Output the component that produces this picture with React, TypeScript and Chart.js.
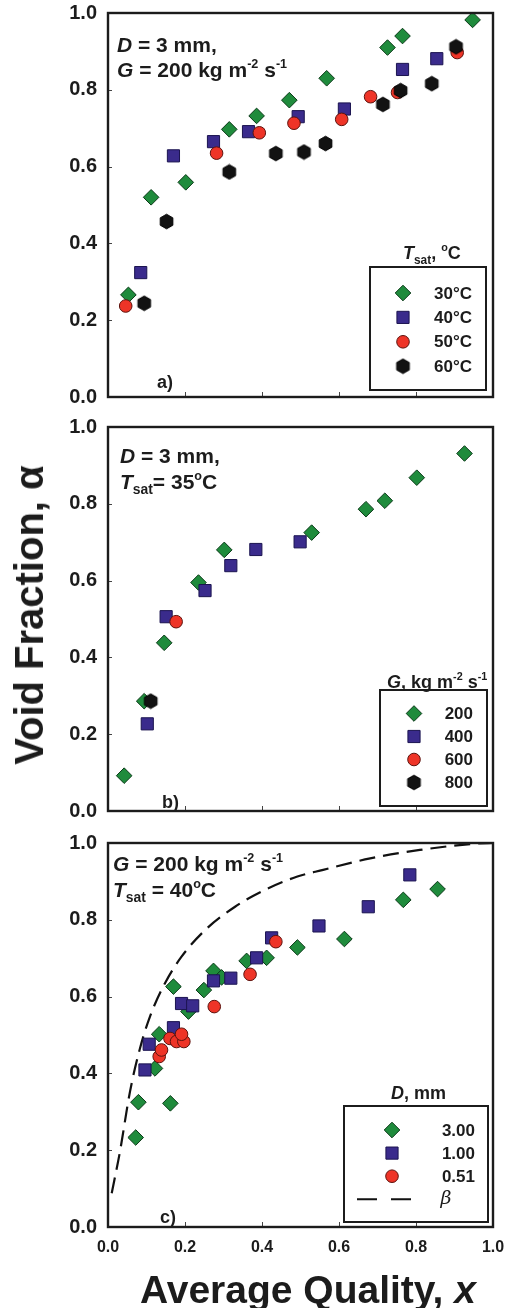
import React, { useEffect, useRef } from 'react';
import { Chart, registerables } from 'chart.js';

Chart.register(...registerables);

type Pt = [number, number];

const FONT = '"Liberation Sans", Arial, Helvetica, sans-serif';
const INK = '#1c1c1c';

// ---- axes ----
const X_TICKS = [0, 0.2, 0.4, 0.6, 0.8, 1.0];
const X_TICK_LABELS = ['0.0', '0.2', '0.4', '0.6', '0.8', '1.0'];
const Y_TICKS = [0, 0.2, 0.4, 0.6, 0.8, 1.0];
const Y_TICK_LABELS = ['0.0', '0.2', '0.4', '0.6', '0.8', '1.0'];

// ---- panel a) D = 3 mm, G = 200, by Tsat ----
const A_LABELS = ['30°C', '40°C', '50°C', '60°C'];
const A_30C: Pt[] = [[0.053, 0.266], [0.112, 0.52], [0.202, 0.559], [0.315, 0.697], [0.386, 0.732], [0.471, 0.773], [0.568, 0.83], [0.726, 0.91], [0.765, 0.94], [0.947, 0.982]];
const A_40C: Pt[] = [[0.085, 0.324], [0.17, 0.628], [0.274, 0.665], [0.365, 0.691], [0.494, 0.73], [0.614, 0.75], [0.765, 0.853], [0.854, 0.881]];
const A_50C: Pt[] = [[0.046, 0.237], [0.282, 0.635], [0.393, 0.688], [0.483, 0.713], [0.607, 0.723], [0.682, 0.782], [0.752, 0.793], [0.907, 0.897]];
const A_60C: Pt[] = [[0.094, 0.244], [0.152, 0.457], [0.315, 0.586], [0.436, 0.634], [0.509, 0.638], [0.565, 0.66], [0.714, 0.762], [0.76, 0.798], [0.841, 0.816], [0.904, 0.912]];

// ---- panel b) D = 3 mm, Tsat = 35°C, by G ----
const B_LABELS = ['200', '400', '600', '800'];
const B_200: Pt[] = [[0.042, 0.092], [0.094, 0.286], [0.146, 0.438], [0.235, 0.595], [0.302, 0.68], [0.529, 0.725], [0.67, 0.786], [0.719, 0.808], [0.802, 0.868], [0.926, 0.931]];
const B_400: Pt[] = [[0.102, 0.227], [0.151, 0.506], [0.252, 0.574], [0.319, 0.639], [0.384, 0.681], [0.499, 0.701]];
const B_600: Pt[] = [[0.177, 0.493]];
const B_800: Pt[] = [[0.111, 0.286]];

// ---- panel c) G = 200, Tsat = 40°C, by D ----
const C_LABELS = ['3.00', '1.00', '0.51', 'β'];
const C_300: Pt[] = [[0.072, 0.233], [0.079, 0.325], [0.162, 0.322], [0.122, 0.413], [0.133, 0.502], [0.17, 0.626], [0.209, 0.561], [0.249, 0.617], [0.274, 0.667], [0.295, 0.65], [0.36, 0.693], [0.412, 0.701], [0.492, 0.728], [0.614, 0.75], [0.767, 0.852], [0.856, 0.88]];
const C_100: Pt[] = [[0.096, 0.409], [0.107, 0.476], [0.17, 0.519], [0.191, 0.582], [0.22, 0.576], [0.274, 0.641], [0.319, 0.648], [0.386, 0.701], [0.425, 0.753], [0.548, 0.784], [0.676, 0.834], [0.784, 0.917]];
const C_051: Pt[] = [[0.133, 0.444], [0.139, 0.461], [0.161, 0.491], [0.178, 0.483], [0.197, 0.483], [0.191, 0.502], [0.276, 0.574], [0.369, 0.658], [0.436, 0.743]];
const C_BETA: Pt[] = [[0.0096, 0.088], [0.031, 0.196], [0.057, 0.352], [0.083, 0.465], [0.109, 0.548], [0.148, 0.635], [0.191, 0.704], [0.252, 0.773], [0.33, 0.834], [0.408, 0.878], [0.49, 0.912], [0.559, 0.93], [0.681, 0.96], [0.81, 0.982], [0.966, 0.999], [1.0, 1.0]];

// ---- legend layouts (pixels relative to plot area) ----
const LEG_A = { width: 116, height: 123, insetRight: 7, insetBottom: 7, rowTop: 26, rowGap: 24.4, markerX: 33, labelRight: 102 };
const LEG_B = { width: 107, height: 116, insetRight: 6, insetBottom: 5, rowTop: 23.5, rowGap: 23, markerX: 34, labelRight: 93 };
const LEG_C = { width: 144, height: 116, insetRight: 5, insetBottom: 5, rowTop: 24, rowGap: 23.1, markerX: 48, labelRight: 131, dashFrom: 13, dashTo: 71, betaX: 102 };

function makeHexagon(): HTMLCanvasElement {
  const c = document.createElement('canvas');
  c.width = 17;
  c.height = 17;
  const g = c.getContext('2d')!;
  const R = 7.3;
  g.beginPath();
  for (let k = 0; k < 6; k++) {
    const a = -Math.PI / 2 + (k * Math.PI) / 3;
    const px = 8.5 + R * Math.cos(a);
    const py = 8.5 + R * Math.sin(a);
    if (k === 0) g.moveTo(px, py);
    else g.lineTo(px, py);
  }
  g.closePath();
  g.fillStyle = '#121212';
  g.fill();
  g.strokeStyle = '#000';
  g.lineWidth = 1;
  g.stroke();
  return c;
}

function markerStyles(hex: HTMLCanvasElement) {
  return {
    diamond: { pointStyle: 'rectRot', pointRadius: 7.8, backgroundColor: '#1f8b3c', borderColor: '#0b3a18', borderWidth: 1 },
    square: { pointStyle: 'rect', pointRadius: 8.6, backgroundColor: '#3a2b8c', borderColor: '#1b1450', borderWidth: 1 },
    circle: { pointStyle: 'circle', pointRadius: 6.3, backgroundColor: '#ee3427', borderColor: '#5c130e', borderWidth: 1 },
    hexagon: { pointStyle: hex, pointRadius: 7, backgroundColor: '#121212', borderColor: '#000', borderWidth: 1 },
  };
}

const toXY = (pts: Pt[]) => pts.map(([x, y]) => ({ x, y }));

function drawMarker(ctx: CanvasRenderingContext2D, ds: any, x: number, y: number) {
  const r = ds.pointRadius;
  const st = ds.pointStyle;
  ctx.save();
  ctx.fillStyle = ds.backgroundColor;
  ctx.strokeStyle = ds.borderColor;
  ctx.lineWidth = ds.borderWidth || 1;
  if (typeof st !== 'string') {
    ctx.drawImage(st, x - st.width / 2, y - st.height / 2);
    ctx.restore();
    return;
  }
  ctx.beginPath();
  if (st === 'rectRot') {
    ctx.moveTo(x - r, y);
    ctx.lineTo(x, y - r);
    ctx.lineTo(x + r, y);
    ctx.lineTo(x, y + r);
    ctx.closePath();
  } else if (st === 'rect') {
    const s = r * Math.SQRT1_2;
    ctx.rect(x - s, y - s, 2 * s, 2 * s);
  } else {
    ctx.arc(x, y, r, 0, Math.PI * 2);
  }
  ctx.fill();
  ctx.stroke();
  ctx.restore();
}

const panelDecor = {
  id: 'panelDecor',
  afterDatasetsDraw(chart: any, _args: any, opts: any) {
    const { ctx, chartArea: ca } = chart;
    const xs = chart.scales.x;
    const ys = chart.scales.y;
    ctx.save();
    // inward tick marks
    ctx.strokeStyle = '#444';
    ctx.lineWidth = 1;
    ctx.beginPath();
    X_TICKS.slice(1, -1).forEach((v) => {
      const px = Math.round(xs.getPixelForValue(v)) + 0.5;
      ctx.moveTo(px, ca.bottom);
      ctx.lineTo(px, ca.bottom - 5);
    });
    Y_TICKS.slice(1, -1).forEach((v) => {
      const py = Math.round(ys.getPixelForValue(v)) + 0.5;
      ctx.moveTo(ca.left, py);
      ctx.lineTo(ca.left + 4, py);
    });
    ctx.stroke();
    // frame
    ctx.strokeStyle = INK;
    ctx.lineWidth = 2.4;
    ctx.strokeRect(ca.left, ca.top, ca.right - ca.left, ca.bottom - ca.top);

    // legend
    const L = opts && opts.legend;
    if (L) {
      const bx = ca.right - L.insetRight - L.width;
      const by = ca.bottom - L.insetBottom - L.height;
      ctx.fillStyle = '#fff';
      ctx.fillRect(bx, by, L.width, L.height);
      ctx.strokeStyle = INK;
      ctx.lineWidth = 2;
      ctx.strokeRect(bx, by, L.width, L.height);
      (opts.items as number[]).forEach((di, row) => {
        const ds = chart.data.datasets[di];
        const y = by + L.rowTop + row * L.rowGap;
        if (ds.showLine) {
          ctx.save();
          ctx.strokeStyle = ds.borderColor;
          ctx.lineWidth = 2;
          ctx.setLineDash([20, 14]);
          ctx.beginPath();
          ctx.moveTo(bx + L.dashFrom, y);
          ctx.lineTo(bx + L.dashTo, y);
          ctx.stroke();
          ctx.restore();
          ctx.fillStyle = INK;
          ctx.font = 'italic 19px "DejaVu Serif", "Liberation Serif", serif';
          ctx.textAlign = 'center';
          ctx.textBaseline = 'middle';
          ctx.fillText(ds.label, bx + L.betaX, y);
        } else {
          drawMarker(ctx, ds, bx + L.markerX, y);
          ctx.fillStyle = INK;
          ctx.font = `bold 17px ${FONT}`;
          ctx.textAlign = 'right';
          ctx.textBaseline = 'middle';
          ctx.fillText(ds.label, bx + L.labelRight, y + 1);
        }
      });
    }
    ctx.restore();
  },
};

function buildChart(
  canvas: HTMLCanvasElement,
  datasets: any[],
  cfg: { padTop: number; xAxisHeight: number; showX: boolean; legend: any; items: number[] }
) {
  return new Chart(canvas, {
    type: 'scatter',
    data: { datasets },
    options: {
      animation: false,
      responsive: false,
      maintainAspectRatio: false,
      events: [],
      layout: { padding: { top: cfg.padTop, right: 16, left: 0, bottom: 0 } },
      plugins: {
        legend: { display: false },
        tooltip: { enabled: false },
        // @ts-ignore
        panelDecor: { legend: cfg.legend, items: cfg.items },
      },
      scales: {
        x: {
          type: 'linear',
          min: 0,
          max: 1,
          grid: { display: false, drawTicks: false },
          border: { display: false },
          afterBuildTicks: (s: any) => {
            s.ticks = X_TICKS.map((v) => ({ value: v }));
          },
          afterFit: (s: any) => {
            s.height = cfg.xAxisHeight;
            s.paddingLeft = 0;
            s.paddingRight = 0;
          },
          ticks: {
            display: cfg.showX,
            padding: 11,
            color: INK,
            maxRotation: 0,
            autoSkip: false,
            font: { family: FONT, size: 16, weight: 'bold' },
            callback: (_v: any, i: number) => X_TICK_LABELS[i],
          },
        },
        y: {
          type: 'linear',
          min: 0,
          max: 1,
          grid: { display: false, drawTicks: false },
          border: { display: false },
          afterBuildTicks: (s: any) => {
            s.ticks = Y_TICKS.map((v) => ({ value: v }));
          },
          afterFit: (s: any) => {
            s.width = 108;
            s.paddingTop = 0;
            s.paddingBottom = 0;
          },
          ticks: {
            padding: 11,
            color: INK,
            autoSkip: false,
            font: { family: FONT, size: 20, weight: 'bold' },
            callback: (_v: any, i: number) => Y_TICK_LABELS[i],
          },
        },
      },
    } as any,
    plugins: [panelDecor as any],
  });
}

const Sup = ({ children }: { children: React.ReactNode }) => (
  <span style={{ fontSize: '0.6em', position: 'relative', top: '-0.75em' }}>{children}</span>
);
const Sub = ({ children }: { children: React.ReactNode }) => (
  <span style={{ fontSize: '0.66em', position: 'relative', top: '0.38em' }}>{children}</span>
);

function Txt({ left, top, size, children, style }: { left: number; top: number; size: number; children: React.ReactNode; style?: React.CSSProperties }) {
  return (
    <div
      style={{
        position: 'absolute',
        left,
        top,
        fontFamily: FONT,
        fontWeight: 'bold',
        fontSize: size,
        lineHeight: 1,
        whiteSpace: 'nowrap',
        color: INK,
        ...style,
      }}
    >
      {children}
    </div>
  );
}

export default function App() {
  const refA = useRef<HTMLCanvasElement>(null);
  const refB = useRef<HTMLCanvasElement>(null);
  const refC = useRef<HTMLCanvasElement>(null);

  useEffect(() => {
    const hex = makeHexagon();
    const M = markerStyles(hex);
    const series = (label: string, pts: Pt[], st: any, order: number) => ({ label, data: toXY(pts), order, ...st });

    const chA = buildChart(
      refA.current!,
      [
        series(A_LABELS[0], A_30C, M.diamond, 4),
        series(A_LABELS[1], A_40C, M.square, 3),
        series(A_LABELS[2], A_50C, M.circle, 2),
        series(A_LABELS[3], A_60C, M.hexagon, 1),
      ],
      { padTop: 13, xAxisHeight: 23, showX: false, legend: LEG_A, items: [0, 1, 2, 3] }
    );
    const chB = buildChart(
      refB.current!,
      [
        series(B_LABELS[0], B_200, M.diamond, 4),
        series(B_LABELS[1], B_400, M.square, 3),
        series(B_LABELS[2], B_600, M.circle, 2),
        series(B_LABELS[3], B_800, M.hexagon, 1),
      ],
      { padTop: 23, xAxisHeight: 23, showX: false, legend: LEG_B, items: [0, 1, 2, 3] }
    );
    const chC = buildChart(
      refC.current!,
      [
        series(C_LABELS[0], C_300, M.diamond, 4),
        series(C_LABELS[1], C_100, M.square, 3),
        series(C_LABELS[2], C_051, M.circle, 2),
        {
          type: 'line',
          label: C_LABELS[3],
          data: toXY(C_BETA),
          order: 5,
          showLine: true,
          pointRadius: 0,
          borderColor: '#111',
          borderWidth: 2.2,
          borderDash: [16, 8],
          cubicInterpolationMode: 'monotone',
          fill: false,
        },
      ],
      { padTop: 23, xAxisHeight: 81, showX: true, legend: LEG_C, items: [0, 1, 2, 3] }
    );
    return () => {
      chA.destroy();
      chB.destroy();
      chC.destroy();
    };
  }, []);

  const cv = (top: number, h: number): React.CSSProperties => ({ position: 'absolute', left: 0, top, width: 509, height: h });

  return (
    <div style={{ position: 'absolute', left: 0, top: 0, width: 509, height: 1308, background: '#fff', overflow: 'hidden' }}>
      <canvas ref={refA} width={509} height={420} style={cv(0, 420)} />
      <canvas ref={refB} width={509} height={430} style={cv(404, 430)} />
      <canvas ref={refC} width={509} height={488} style={cv(820, 488)} />

      {/* panel a annotations */}
      <Txt left={117} top={34} size={21}><i>D</i> = 3 mm,</Txt>
      <Txt left={117} top={59} size={21}><i>G</i> = 200 kg m<Sup>-2</Sup> s<Sup>-1</Sup></Txt>
      <Txt left={403} top={244} size={18}><i>T</i><Sub>sat</Sub>, <Sup>o</Sup>C</Txt>
      <Txt left={157} top={373} size={18}>a)</Txt>

      {/* panel b annotations */}
      <Txt left={120} top={445} size={21}><i>D</i> = 3 mm,</Txt>
      <Txt left={120} top={471} size={21}><i>T</i><Sub>sat</Sub>= 35<Sup>o</Sup>C</Txt>
      <Txt left={387} top={673} size={18}><i>G</i>, kg m<Sup>-2</Sup> s<Sup>-1</Sup></Txt>
      <Txt left={162} top={793} size={18}>b)</Txt>

      {/* panel c annotations */}
      <Txt left={113} top={853} size={21}><i>G</i> = 200 kg m<Sup>-2</Sup> s<Sup>-1</Sup></Txt>
      <Txt left={113} top={879} size={21}><i>T</i><Sub>sat</Sub> = 40<Sup>o</Sup>C</Txt>
      <Txt left={391} top={1084} size={18}><i>D</i>, mm</Txt>
      <Txt left={160} top={1208} size={18}>c)</Txt>

      {/* axis titles */}
      <Txt
        left={29}
        top={615}
        size={40}
        style={{ transform: 'translate(-50%, -50%) rotate(-90deg)' }}
      >
        Void Fraction, α
      </Txt>
      <Txt left={308} top={1289} size={39} style={{ transform: 'translate(-50%, -50%)' }}>
        Average Quality, <i>x</i>
      </Txt>
    </div>
  );
}
